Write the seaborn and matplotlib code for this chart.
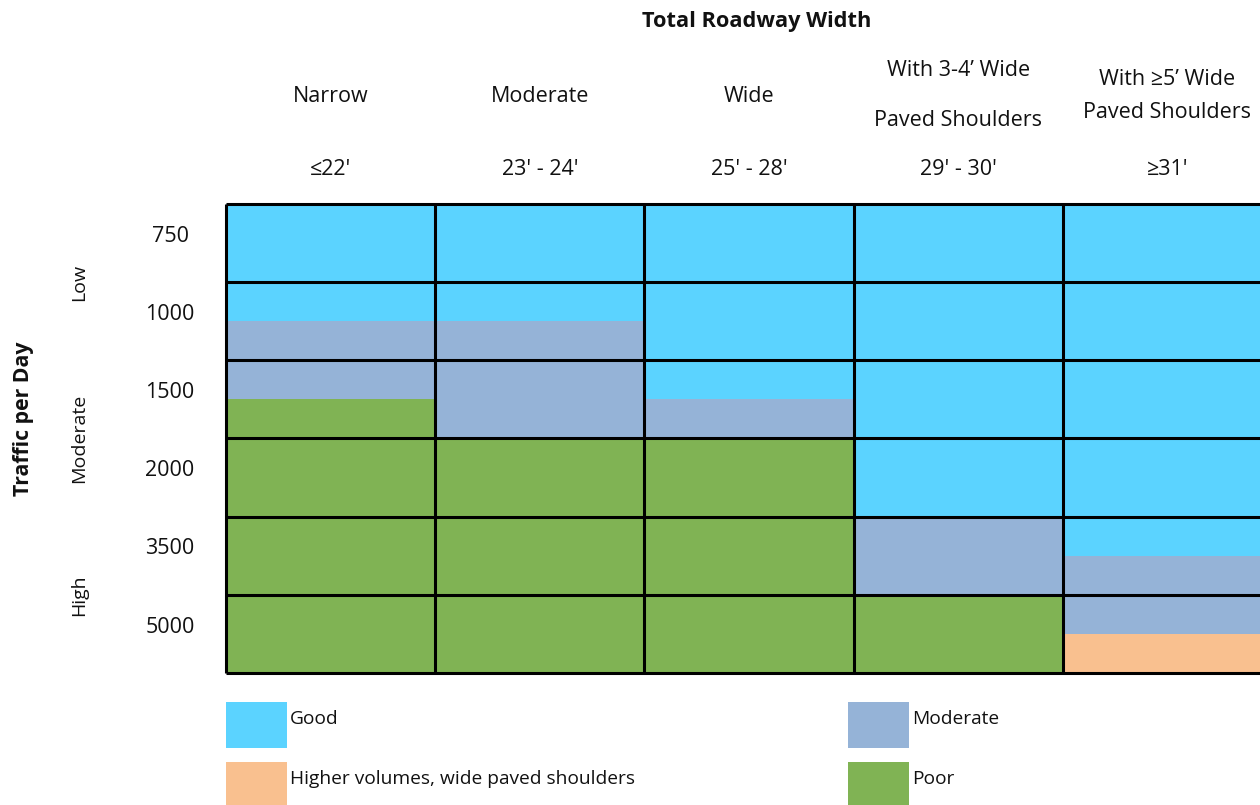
import numpy as np
import pandas as pd
import seaborn as sns
import matplotlib
matplotlib.use("Agg")
import matplotlib.pyplot as plt
from matplotlib.colors import ListedColormap
from matplotlib.patches import Rectangle
from matplotlib.transforms import blended_transform_factory

# ---------------- data ----------------
width_names = [["Narrow"], ["Moderate"], ["Wide"],
               ["With 3-4\u2019 Wide", "Paved Shoulders"],
               ["With \u22655\u2019 Wide", "Paved Shoulders"]]
width_ranges = ["\u226422'", "23' - 24'", "25' - 28'", "29' - 30'", "\u226531'"]
traffic_values = ["750", "1000", "1500", "2000", "3500", "5000"]
traffic_groups = ["Low", "Moderate", "High"]
rating_names = ["Good", "Moderate", "Poor", "Higher volumes, wide paved shoulders"]
rating_colors = ["#5BD3FF", "#95B3D7", "#80B354", "#F9C08F"]

# rating code per half traffic step (top to bottom), 0=Good 1=Moderate 2=Poor 3=Higher volumes
narrow = [0, 0, 0, 1, 1, 2, 2, 2, 2, 2, 2, 2]
moderate = [0, 0, 0, 1, 1, 1, 2, 2, 2, 2, 2, 2]
wide = [0, 0, 0, 0, 0, 1, 2, 2, 2, 2, 2, 2]
shoulders_3_4 = [0, 0, 0, 0, 0, 0, 0, 0, 1, 1, 2, 2]
shoulders_5 = [0, 0, 0, 0, 0, 0, 0, 0, 0, 1, 1, 3]

# ---------------- figure ----------------
sns.set_theme(style="white")
plt.rcParams["font.family"] = ["Open Sans", "DejaVu Sans"]

W, H = 1260, 805
fig = plt.figure(figsize=(W / 100, H / 100), dpi=100)
fig.patch.set_facecolor("white")

left, right, top, bottom = 226, 1272, 204, 673
ax = fig.add_axes([left / W, 1 - bottom / H, (right - left) / W, (bottom - top) / H])

df = pd.DataFrame({r: v for r, v in zip(width_ranges,
                   [narrow, moderate, wide, shoulders_3_4, shoulders_5])})
sns.heatmap(df, cmap=ListedColormap(rating_colors), vmin=-0.5, vmax=3.5,
            cbar=False, ax=ax, xticklabels=width_ranges, yticklabels=False)

nrow = len(df)
ncol = len(width_ranges)
lw = 2.2
ax.hlines(np.arange(0, nrow + 1, 2), 0, ncol, colors="black", linewidth=lw, clip_on=False)
ax.vlines(np.arange(0, ncol), 0, nrow, colors="black", linewidth=lw, clip_on=False)

fs = 15.5
txt = "#111111"
# top tick labels (width ranges)
ax.xaxis.tick_top()
ax.set_xticks(np.arange(ncol) + 0.5)
ax.set_xticklabels(width_ranges, fontsize=fs, color=txt)
ax.tick_params(axis="x", length=0, pad=24.5)
for t in ax.get_xticklabels():
    t.set_verticalalignment("center")

# left tick labels (traffic values)
ax.set_yticks(np.arange(0, nrow, 2) + 0.76)
ax.set_yticklabels(traffic_values, fontsize=fs, color=txt, rotation=0)
ax.tick_params(axis="y", length=0, pad=40.3)
for t in ax.get_yticklabels():
    t.set_horizontalalignment("center")
ax.set_xlabel("")
ax.set_ylabel("")

# column names
tr_top = blended_transform_factory(ax.transData, fig.transFigure)
name_y = {1: [96], 2: [79, 112]}
for i, lines in enumerate(width_names):
    ys = name_y[len(lines)] if i != 3 else [71, 120]
    for line, y in zip(lines, ys):
        ax.text(i + 0.5, 1 - y / H, line, transform=tr_top, ha="center", va="center",
                fontsize=fs, color=txt)

fig.text(757 / W, 1 - 21 / H, "Total Roadway Width", ha="center", va="center",
         fontsize=15.7, fontweight="bold", color=txt)

# traffic groups
tr_left = blended_transform_factory(fig.transFigure, ax.transData)
for g, name in enumerate(traffic_groups):
    ax.text(79 / W, 4 * g + 2, name, transform=tr_left, rotation=90,
            ha="center", va="center", fontsize=14.0, color=txt)
ax.text(24 / W, 5.5, "Traffic per Day", transform=tr_left, rotation=90,
        ha="center", va="center", fontsize=15.3, fontweight="bold", color=txt)

# legend
legend_pos = [(226, 702), (848, 702), (848, 762), (226, 762)]
for name, color, (x, y) in zip(rating_names, rating_colors, legend_pos):
    fig.patches.append(Rectangle((x / W, 1 - (y + 46) / H), 61 / W, 46 / H,
                                 transform=fig.transFigure, facecolor=color,
                                 edgecolor="none"))
    fig.text((x + 64) / W, 1 - (y + 22) / H, name, ha="left", va="baseline",
             fontsize=13.8, color=txt)

fig.savefig("out.png", dpi=100, facecolor="white")
